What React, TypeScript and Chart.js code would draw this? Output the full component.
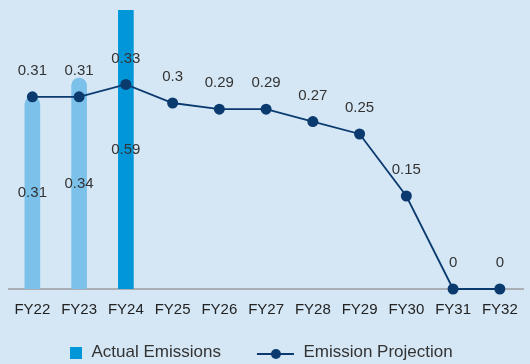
import React, { useEffect, useRef } from 'react';
import { Chart, registerables } from 'chart.js';

Chart.register(...registerables);

const categories = ['FY22', 'FY23', 'FY24', 'FY25', 'FY26', 'FY27', 'FY28', 'FY29', 'FY30', 'FY31', 'FY32'];
const actualEmissions = [0.31, 0.34, 0.59, null, null, null, null, null, null, null, null];
const emissionProjection = [0.31, 0.31, 0.33, 0.3, 0.29, 0.29, 0.27, 0.25, 0.15, 0, 0];
const actualLabel = 'Actual Emissions';
const projectionLabel = 'Emission Projection';

const FONT = '"Liberation Sans", Arial, Helvetica, sans-serif';
const BG = '#d5e7f5';
const LIGHT_BAR = '#7cc1ea';
const DARK_BAR = '#0096d8';
const LINE = '#0b3a6f';
const TEXT = '#333333';
const barColors = [LIGHT_BAR, LIGHT_BAR, DARK_BAR];

function makeIcon(draw: (ctx: CanvasRenderingContext2D) => void) {
  const c = document.createElement('canvas');
  c.width = 61;
  c.height = 15;
  const ctx = c.getContext('2d') as CanvasRenderingContext2D;
  draw(ctx);
  return c;
}

const valueLabels = {
  id: 'valueLabels',
  afterDatasetsDraw(chart: any) {
    const { ctx, chartArea } = chart;
    ctx.save();
    ctx.font = `15px ${FONT}`;
    ctx.fillStyle = TEXT;
    ctx.textAlign = 'center';
    ctx.textBaseline = 'middle';
    chart.data.datasets.forEach((ds: any, di: number) => {
      const meta = chart.getDatasetMeta(di);
      meta.data.forEach((el: any, i: number) => {
        const v = ds.data[i];
        if (v === null || v === undefined) return;
        if (ds.type === 'bar') {
          const top = Math.max(el.y, chartArea.top);
          ctx.fillText(String(v), el.x, (top + el.base) / 2);
        } else {
          ctx.fillText(String(v), el.x, el.y - 26);
        }
      });
    });
    ctx.restore();
  },
};

export default function App() {
  const ref = useRef<HTMLCanvasElement>(null);

  useEffect(() => {
    if (!ref.current) return;
    const squareIcon = makeIcon((ctx) => {
      ctx.fillStyle = DARK_BAR;
      ctx.fillRect(48, 2, 12, 12);
    });
    const lineIcon = makeIcon((ctx) => {
      ctx.strokeStyle = LINE;
      ctx.lineWidth = 2;
      ctx.beginPath();
      ctx.moveTo(23, 9);
      ctx.lineTo(60, 9);
      ctx.stroke();
      ctx.fillStyle = LINE;
      ctx.beginPath();
      ctx.arc(42, 9, 5, 0, Math.PI * 2);
      ctx.fill();
    });

    const chart = new Chart(ref.current, {
      type: 'bar',
      data: {
        labels: categories,
        datasets: [
          {
            type: 'line',
            label: projectionLabel,
            data: emissionProjection,
            borderColor: LINE,
            backgroundColor: LINE,
            borderWidth: 1.8,
            pointRadius: 5.5,
            pointBorderWidth: 0,
            pointBackgroundColor: LINE,
            tension: 0,
            clip: false,
            order: 0,
          } as any,
          {
            type: 'bar',
            label: actualLabel,
            data: actualEmissions,
            backgroundColor: barColors,
            borderRadius: 8,
            borderSkipped: 'bottom',
            barThickness: 15,
            order: 1,
          } as any,
        ],
      },
      options: {
        responsive: false,
        animation: false,
        layout: { padding: { left: 9, top: 10, right: 0, bottom: 0 } },
        scales: {
          x: {
            offset: true,
            grid: { display: false, drawTicks: false },
            border: { display: true, color: '#a9afb4', width: 2 },
            ticks: { padding: 12, color: '#222222', font: { family: FONT, size: 15 } },
          },
          y: {
            display: false,
            min: 0,
            max: 0.45,
          },
        },
        plugins: {
          tooltip: { enabled: false },
          legend: {
            position: 'bottom',
            align: 'start',
            maxHeight: 33,
            labels: {
              usePointStyle: true,
              pointStyleWidth: 61,
              padding: 13,
              color: TEXT,
              font: { family: FONT, size: 17 },
              generateLabels: () => [
                {
                  text: actualLabel,
                  pointStyle: squareIcon,
                  fillStyle: 'transparent',
                  strokeStyle: 'transparent',
                  lineWidth: 0,
                  hidden: false,
                  datasetIndex: 1,
                  fontColor: TEXT,
                } as any,
                {
                  text: projectionLabel,
                  pointStyle: lineIcon,
                  fillStyle: 'transparent',
                  strokeStyle: 'transparent',
                  lineWidth: 0,
                  hidden: false,
                  datasetIndex: 0,
                  fontColor: TEXT,
                } as any,
              ],
            },
          } as any,
        },
      },
      plugins: [valueLabels],
    });
    return () => chart.destroy();
  }, []);

  return (
    <div style={{ position: 'fixed', left: 0, top: 0, width: 530, height: 364, background: BG }}>
      <canvas ref={ref} width={530} height={364} style={{ display: 'block' }} />
    </div>
  );
}
